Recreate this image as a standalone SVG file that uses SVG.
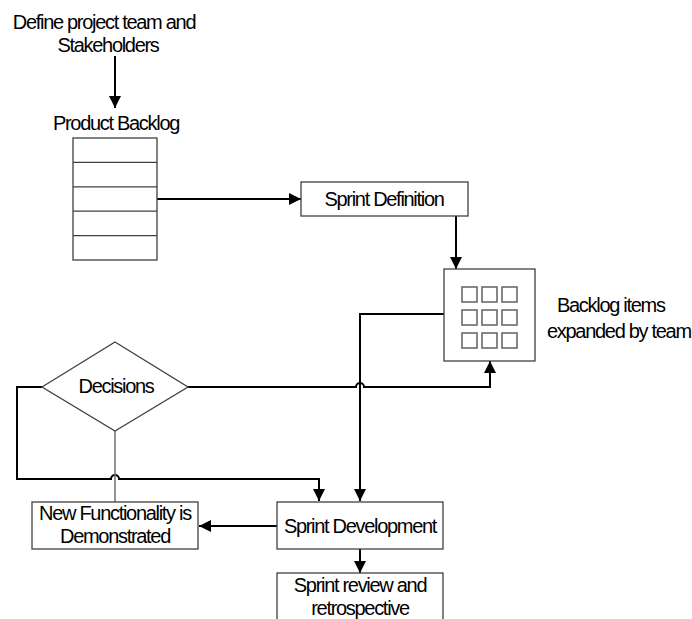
<svg xmlns="http://www.w3.org/2000/svg" width="692" height="619" viewBox="0 0 692 619">
<style>
.t{font-family:"Liberation Sans",Arial,sans-serif;font-size:20px;letter-spacing:-1.3px;fill:#000;text-anchor:middle}
.ts{text-anchor:start}
.box{fill:#fff;stroke:#404040;stroke-width:1.3}
.sq{fill:#fff;stroke:#606060;stroke-width:1.5}
.c{fill:none;stroke:#000;stroke-width:2}
.g{fill:none;stroke:#707070;stroke-width:1.5}
</style>
<defs>
<marker id="ah" markerUnits="userSpaceOnUse" markerWidth="14" markerHeight="14" refX="12" refY="6" orient="auto">
<path d="M0,0 L12,6 L0,12 z" fill="#000"/>
</marker>
</defs>
<g id="connectors">
<path class="c" d="M115,56 L115,108" marker-end="url(#ah)"/>
<path class="c" d="M157,199 L301,199" marker-end="url(#ah)"/>
<path class="c" d="M456,216 L456,269" marker-end="url(#ah)"/>
<path class="c" d="M444,314 L360,314 L360,501" marker-end="url(#ah)"/>
<path class="c" d="M188,387 L356,387 A4,4 0 0 1 364,387 L490,387 L490,361" marker-end="url(#ah)"/>
<path class="c" d="M42,387 L17,387 L17,479 L111,479 A4,4 0 0 1 119,479 L319,479 L319,501" marker-end="url(#ah)"/>
<path class="g" d="M115,431 L115,502"/>
<path class="c" d="M277,526 L199,526" marker-end="url(#ah)"/>
<path class="c" d="M360,549 L360,573" marker-end="url(#ah)"/>
</g>
<g id="stakeholders">
<text class="t" x="104" y="29">Define project team and</text>
<text class="t" x="108" y="52">Stakeholders</text>
</g>
<g id="product-backlog">
<text class="t" x="116" y="130">Product Backlog</text>
<rect class="box" x="73" y="138" width="84" height="122"/>
<path class="box" d="M73,162.4 H157 M73,186.8 H157 M73,211.2 H157 M73,235.6 H157"/>
</g>
<g id="sprint-definition">
<rect class="box" x="301" y="182" width="167" height="34"/>
<text class="t" x="384" y="206">Sprint Definition</text>
</g>
<g id="backlog-items">
<rect class="box" x="444" y="269" width="91" height="92"/>
<rect class="sq" x="462" y="287" width="15" height="15"/>
<rect class="sq" x="482" y="287" width="15" height="15"/>
<rect class="sq" x="502" y="287" width="15" height="15"/>
<rect class="sq" x="462" y="310" width="15" height="15"/>
<rect class="sq" x="482" y="310" width="15" height="15"/>
<rect class="sq" x="502" y="310" width="15" height="15"/>
<rect class="sq" x="462" y="333" width="15" height="15"/>
<rect class="sq" x="482" y="333" width="15" height="15"/>
<rect class="sq" x="502" y="333" width="15" height="15"/>
<text class="t ts" x="557" y="312">Backlog items</text>
<text class="t ts" x="547" y="338">expanded by team</text>
</g>
<g id="decisions">
<path class="box" d="M42,387 L115,342 L188,387 L115,431 z"/>
<text class="t" x="116" y="393">Decisions</text>
</g>
<g id="new-functionality">
<rect class="box" x="32" y="502" width="166" height="47"/>
<text class="t" x="115" y="520">New Functionality is</text>
<text class="t" x="115" y="543">Demonstrated</text>
</g>
<g id="sprint-development">
<rect class="box" x="277" y="502" width="166" height="47"/>
<text class="t" x="360" y="533">Sprint Development</text>
</g>
<g id="sprint-review">
<rect class="box" x="277" y="573" width="166" height="60"/>
<text class="t" x="360" y="592">Sprint review and</text>
<text class="t" x="360" y="615">retrospective</text>
</g>
</svg>
